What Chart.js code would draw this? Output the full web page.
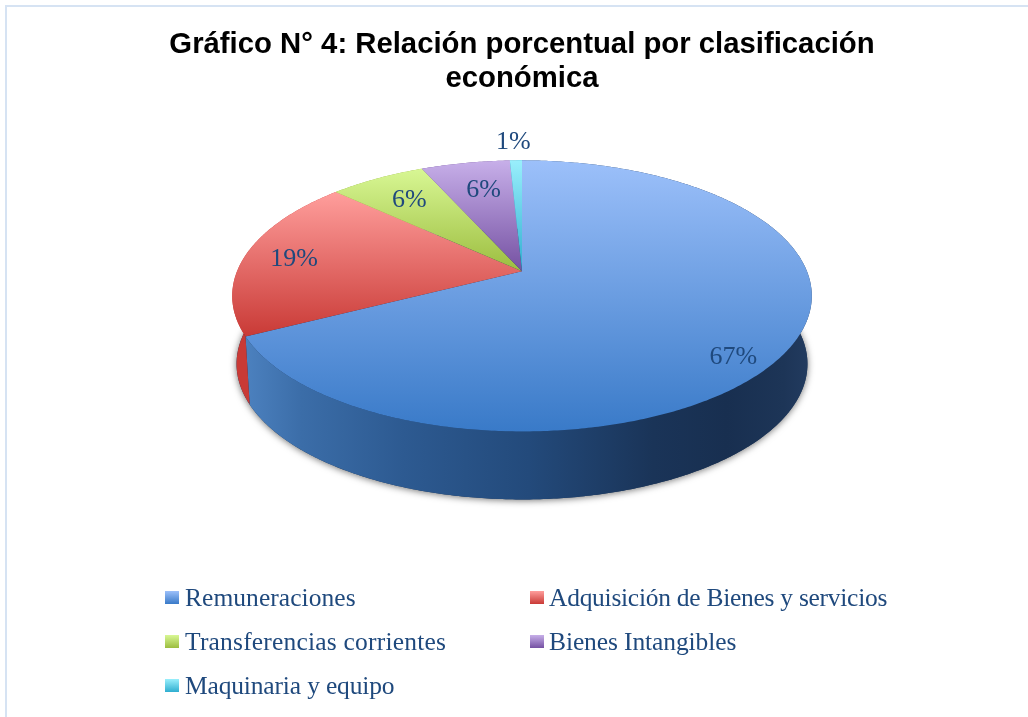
<!DOCTYPE html>
<html><head><meta charset="utf-8">
<script src="https://cdn.jsdelivr.net/npm/chart.js@4"></script>
<style>
html,body{margin:0;padding:0;background:#fff;overflow:hidden;width:1028px;height:717px}
#frame{position:absolute;left:5px;top:5px;width:1040px;height:730px;border:2px solid #D6E3F3;box-sizing:border-box}
#wrap{position:absolute;left:0;top:0;width:1044px;height:717px}
</style></head><body>
<div id="frame"></div>
<div id="wrap"><canvas id="c" width="1044" height="717"></canvas></div>
<script>
const categories = ['Remuneraciones','Adquisición de Bienes y servicios','Transferencias corrientes','Bienes Intangibles','Maquinaria y equipo'];
const percentValues = [67.4, 19.4, 6.4, 5.9, 0.8];
const percentLabels = ['67%','19%','6%','6%','1%'];
const titleLines = ['Gráfico N° 4: Relación porcentual por clasificación','económica'];
const topLight = ['#9CC0FA','#FF9E9C','#D8F794','#C7AFE9','#99EFFC'];
const topDark  = ['#397AC8','#C93A36','#9CBD3F','#7551A2','#2FAED0'];

const TILT = {yRatio:0.46, k:-0.181, depth:68, lowerScale:0.985};
const LABEL_POS = [[0.80,1,27],[0.82,-1,2],[0.82,9,7],[0.70,3,-2],[1.10,-2,-9]];
const LEGEND_SPACING = ['0.05px','-0.27px','0.2px','-0.1px','-0.16px'];
const TEXT = '#1F497D';
const SERIF = '"Liberation Serif"';

function project(arc, ang, r, dy, s){
  const u = Math.cos(ang)*r, v = Math.sin(ang)*r;
  const w = 1 + TILT.k*v, a = arc.outerRadius;
  return {x: arc.x + s*a*u/w, y: arc.y + dy + a*TILT.yRatio*v/w};
}
function rim(arc, from, to, dy, s){
  const n = Math.max(2, Math.ceil(Math.abs(to-from)/0.01)), pts=[];
  for(let i=0;i<=n;i++) pts.push(project(arc, from+(to-from)*i/n, 1, dy, s));
  return pts;
}
const pie3d = {
  id:'pie3d',
  beforeDatasetDraw(chart){
    const ctx = chart.ctx, arcs = chart.getDatasetMeta(0).data;
    const base = arcs[0];
    ctx.save();
    ctx.shadowColor='rgba(0,0,0,0.55)'; ctx.shadowBlur=7; ctx.shadowOffsetY=1;
    ctx.beginPath();
    rim(base,0,Math.PI*2,TILT.depth,TILT.lowerScale).forEach((p,i)=>i?ctx.lineTo(p.x,p.y):ctx.moveTo(p.x,p.y));
    ctx.closePath(); ctx.fillStyle='#1B3558'; ctx.fill();
    ctx.restore();
    const sideBlue = ctx.createLinearGradient(245,0,812,0);
    [[0,'#4C81BF'],[0.1,'#3B6DA8'],[0.28,'#2D5A91'],[0.5,'#234A7B'],[0.72,'#1A3458'],[0.85,'#182F50'],[0.95,'#1D3557'],[1,'#233C60']].forEach(s=>sideBlue.addColorStop(s[0],s[1]));
    const sideFill = [sideBlue,'#C93A36','#8DAA38','#6A4A94','#2AA0BF'];
    arcs.forEach((arc,i)=>{
      const up = rim(arc,arc.startAngle,arc.endAngle,0,1);
      const low = rim(arc,arc.startAngle,arc.endAngle,TILT.depth,TILT.lowerScale).reverse();
      ctx.beginPath();
      up.concat(low).forEach((p,j)=>j?ctx.lineTo(p.x,p.y):ctx.moveTo(p.x,p.y));
      ctx.closePath(); ctx.fillStyle=sideFill[i]; ctx.fill();
    });
    arcs.forEach((arc,i)=>{
      const pts = rim(arc,arc.startAngle,arc.endAngle,0,1);
      const ys = pts.map(p=>p.y).concat([arc.y]);
      const g = ctx.createLinearGradient(0,Math.min(...ys),0,Math.max(...ys));
      g.addColorStop(0,topLight[i]); g.addColorStop(1,topDark[i]);
      ctx.beginPath(); ctx.moveTo(arc.x,arc.y);
      pts.forEach(p=>ctx.lineTo(p.x,p.y));
      ctx.closePath(); ctx.fillStyle=g; ctx.fill();
    });
    return false;
  },
  afterDatasetsDraw(chart){
    const ctx = chart.ctx, arcs = chart.getDatasetMeta(0).data;
    ctx.save();
    ctx.fillStyle=TEXT; ctx.textAlign='center'; ctx.textBaseline='middle';
    ctx.font='26px '+SERIF;
    arcs.forEach((arc,i)=>{
      const mid=(arc.startAngle+arc.endAngle)/2, lp=LABEL_POS[i];
      const p=project(arc,mid,lp[0],0,1);
      ctx.fillText(percentLabels[i],p.x+lp[1],p.y+lp[2]);
    });
    const rows=[[0,165,591],[1,530,591],[2,165,635],[3,530,635],[4,165,679]];
    ctx.textAlign='left'; ctx.textBaseline='alphabetic'; ctx.font='25.5px '+SERIF;
    rows.forEach(r=>{
      const i=r[0];
      const g=ctx.createLinearGradient(0,r[2],0,r[2]+13);
      g.addColorStop(0,topLight[i]); g.addColorStop(1,topDark[i]);
      ctx.fillStyle=g; ctx.fillRect(r[1],r[2],14,13);
      ctx.letterSpacing=LEGEND_SPACING[i];
      ctx.fillStyle=TEXT; ctx.fillText(categories[i],r[1]+20-(r[1]>300?1:0),r[2]+15);
    });
    ctx.restore();
  }
};
new Chart(document.getElementById('c'),{
  type:'pie',
  data:{labels:categories,datasets:[{data:percentValues,backgroundColor:topDark,borderWidth:0}]},
  plugins:[pie3d],
  options:{
    responsive:false,animation:false,radius:285,
    layout:{padding:{top:0,bottom:279,left:0,right:0}},
    plugins:{
      legend:{display:false},tooltip:{enabled:false},
      title:{display:true,text:titleLines,color:'#000',font:{family:'"Liberation Sans"',size:29.3,weight:'bold',lineHeight:1.19},padding:{top:27,bottom:8}}
    }
  }
});
</script>
</body></html>
